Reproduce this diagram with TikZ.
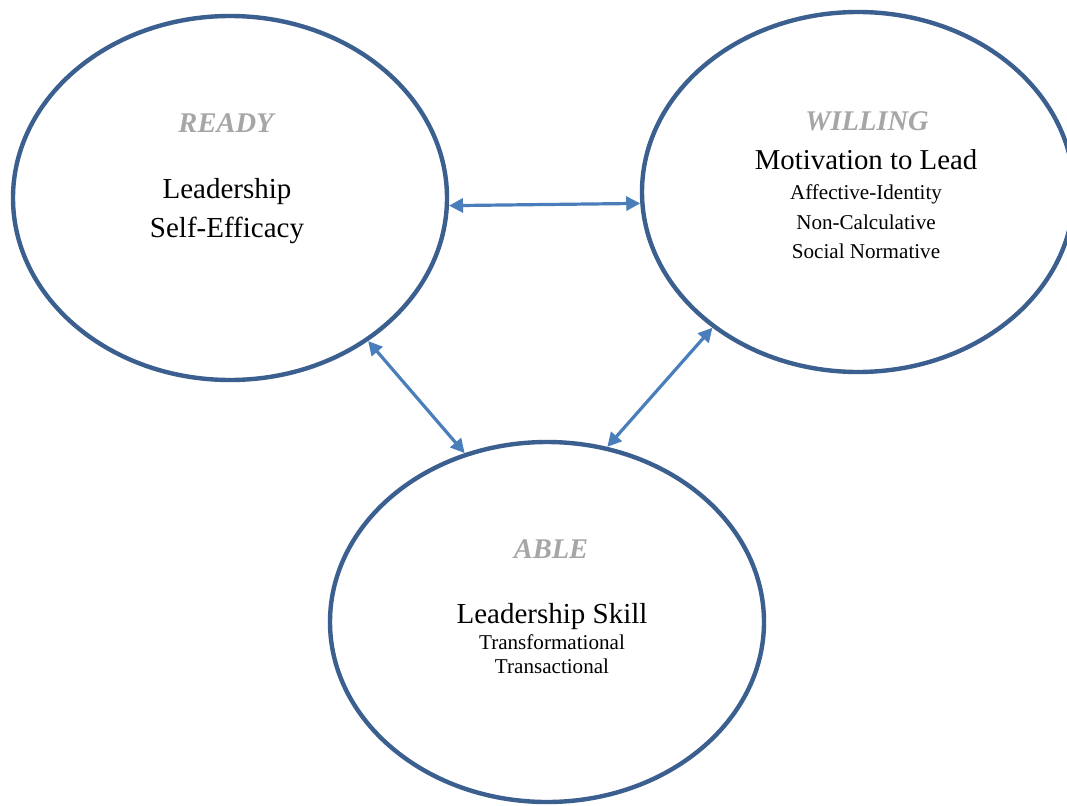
\documentclass[tikz,border=0pt]{standalone}
\usepackage{fontspec}
\setmainfont{Liberation Serif}
\usetikzlibrary{shapes.geometric,arrows.meta}
\definecolor{ringblue}{HTML}{3B5F8E}
\definecolor{arrowblue}{HTML}{4A7EBB}
\definecolor{headgray}{HTML}{A6A6A6}
\tikzset{
  ring/.style={ellipse, draw=ringblue, line width=4.4pt, inner sep=0pt, fill=none},
  link/.style={draw=arrowblue, line width=3.2pt, {Triangle[length=14pt,width=14pt]}-{Triangle[length=14pt,width=14pt]}},
  head/.style={anchor=base, inner sep=0pt, text=headgray, font=\fontsize{28.5}{30}\selectfont\bfseries\itshape},
  big/.style={anchor=base, inner sep=0pt, font=\fontsize{29}{30}\selectfont},
  mid/.style={anchor=base, inner sep=0pt, font=\fontsize{28.8}{30}\selectfont},
  small/.style={anchor=base, inner sep=0pt, font=\fontsize{21.1}{22}\selectfont}
}
\begin{document}
\begin{tikzpicture}[x=1pt,y=-1pt]
\clip (0,0) rectangle (1067,805);
\fill[white] (0,0) rectangle (1067,805);
\node[ring, minimum width=434pt, minimum height=364pt] (ready) at (230,198) {};
\node[ring, minimum width=432pt, minimum height=360pt] (willing) at (858,192) {};
\node[ring, minimum width=434pt, minimum height=360pt] (able) at (547,622) {};

\draw[link] (ready.-2) -- (willing.183);
\draw[link] (ready.-46) -- (able.116);
\draw[link] (willing.223) -- (able.71);

\node[head] (t1) at (226,133) {READY};
\node[big] (t2) at (227,198) {Leadership};
\node[big] (t3) at (227,237) {Self-Efficacy};

\node[head] (t4) at (867,131) {WILLING};
\node[mid] (t5) at (866,170) {Motivation to Lead};
\node[small] (t6) at (866,200) {Affective-Identity};
\node[small] (t7) at (866,229) {Non-Calculative};
\node[small] (t8) at (866,258) {Social Normative};

\node[head] (t9) at (551,558) {ABLE};
\node[big] (t10) at (552,623) {Leadership Skill};
\node[small] (t11) at (552,649) {Transformational};
\node[small] (t12) at (552,673) {Transactional};
\end{tikzpicture}
\end{document}
